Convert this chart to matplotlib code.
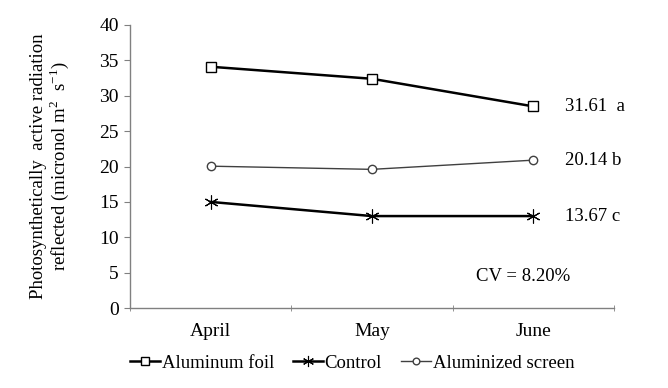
import matplotlib
matplotlib.use("Agg")
import matplotlib.pyplot as plt
import numpy as np

months = ["April", "May", "June"]
foil = [34.1, 32.4, 28.5]
control = [15.0, 13.0, 13.0]
screen = [20.05, 19.6, 20.9]
means = ["31.61  a", "20.14 b", "13.67 c"]
cv_text = "CV = 8.20%"

plt.rcParams['font.family'] = ['Liberation Serif', 'DejaVu Serif']
plt.rcParams['font.size'] = 13.5

fig = plt.figure(figsize=(6.68, 3.88), dpi=100)
ax = fig.add_axes([0.1946, 0.206, 0.919 - 0.1946, 0.9356 - 0.206])

x = np.arange(len(months))
ax.plot(x, foil, color='black', lw=1.8, marker='s', ms=6.5, mfc='white', mec='black', mew=1.0,
        label='Aluminum foil')
ax.plot(x, control, color='black', lw=1.8, marker=(6, 2, 0), ms=10, mec='black', mew=0.8,
        label='Control')
ax.plot(x, screen, color='#404040', lw=1.0, marker='o', ms=6, mfc='white', mec='#404040', mew=1.0,
        label='Aluminized screen')

ax.set_xlim(-0.5, 2.5)
ax.set_ylim(0, 40)
ax.set_yticks(np.arange(0, 41, 5))
ax.set_xticks(x)
ax.set_xticklabels(months)
ax.set_xticks([-0.5, 0.5, 1.5, 2.5], minor=True)
ax.tick_params(axis='x', which='major', length=0, pad=11, labelsize=14)
ax.tick_params(axis='x', which='minor', length=4, direction='inout', color='#808080')
ax.tick_params(axis='y', length=4, direction='out', color='#808080', pad=4, labelsize=14)

for s in ['top', 'right']:
    ax.spines[s].set_visible(False)
for s in ['left', 'bottom']:
    ax.spines[s].set_color('#808080')
    ax.spines[s].set_linewidth(1.0)

ax.set_ylabel('Photosynthetically  active radiation\nreflected (micronol m$^{\\mathregular{2}}$  s$^{\\mathregular{-1}}$)',
              fontsize=13.5, linespacing=1.05, labelpad=20)

ends = [foil[-1], screen[-1], control[-1]]
for txt, yv in zip(means, ends):
    ax.annotate(txt, xy=(2, yv), xytext=(23, 0), textcoords='offset points',
                va='center', ha='left', fontsize=13.5, annotation_clip=False)
ax.text(2.23, 4.4, cv_text, ha='right', va='center', fontsize=13.5)

fig.legend(loc='center', bbox_to_anchor=(0.527, 0.064), ncol=3, frameon=False,
           handlelength=1.6, handletextpad=0.1, columnspacing=1.0, fontsize=13.5,
           borderpad=0.1, markerscale=0.8)

fig.savefig('out.png', dpi=100)
